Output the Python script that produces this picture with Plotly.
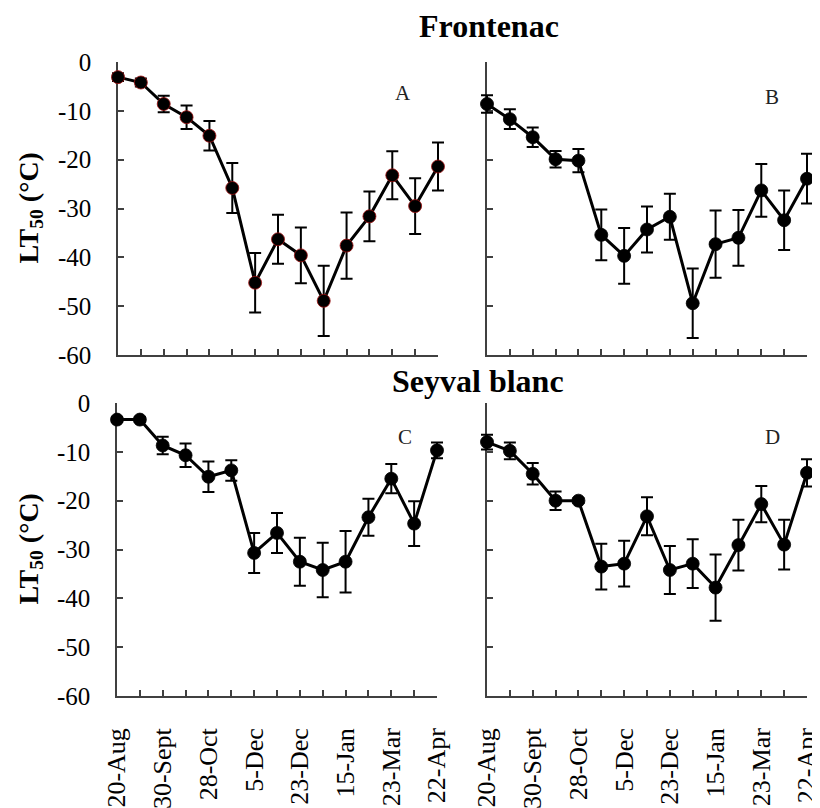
import plotly.graph_objects as go

# ---------------- data ----------------
tick_labels = ['20-Aug', '30-Sept', '28-Oct', '5-Dec', '23-Dec', '15-Jan', '23-Mar', '22-Apr']
sample_idx = list(range(15))          # 15 sampling dates, every 2nd one labelled
y_ticks = [0, -10, -20, -30, -40, -50, -60]

frontenac_A = [-3.1, -4.2, -8.6, -11.3, -15.1, -25.8, -45.2, -36.3, -39.6, -48.9, -37.6, -31.6, -23.2, -29.5, -21.4]
frontenac_A_err = [0.8, 0.8, 1.7, 2.4, 3.0, 5.1, 6.1, 5.0, 5.7, 7.2, 6.8, 5.1, 4.9, 5.7, 4.9]
frontenac_B = [-8.6, -11.7, -15.4, -19.9, -20.2, -35.4, -39.7, -34.3, -31.7, -49.4, -37.3, -36.0, -26.3, -32.4, -23.9]
frontenac_B_err = [1.8, 2.0, 2.0, 1.7, 2.4, 5.2, 5.7, 4.7, 4.7, 7.1, 6.9, 5.7, 5.4, 6.1, 5.1]
seyval_C = [-3.4, -3.4, -8.7, -10.7, -15.1, -13.8, -30.7, -26.6, -32.5, -34.2, -32.5, -23.4, -15.5, -24.7, -9.7]
seyval_C_err = [0.5, 0.5, 1.8, 2.4, 3.1, 2.1, 4.1, 4.1, 4.9, 5.6, 6.3, 3.8, 3.0, 4.6, 1.6]
seyval_D = [-8.0, -9.8, -14.5, -20.0, -20.0, -33.5, -32.9, -23.2, -34.2, -32.9, -37.8, -29.1, -20.7, -29.0, -14.3]
seyval_D_err = [1.5, 1.7, 2.2, 1.9, 0.5, 4.7, 4.7, 3.9, 4.9, 5.0, 6.8, 5.2, 3.7, 5.1, 2.8]

panels = [
    ('A', frontenac_A, frontenac_A_err),
    ('B', frontenac_B, frontenac_B_err),
    ('C', seyval_C, seyval_C_err),
    ('D', seyval_D, seyval_D_err),
]

X_RANGE = [0, 14]
Y_RANGE = [-60, 0]

# ---------------- layout geometry (window pixels) ----------------
OFF = 8                      # default page body margin
W, H = 820 - OFF, 808 - OFF  # figure size so it fits the window
boxes = {
    'A': (118, 438, 62, 355),
    'B': (487, 807, 62, 355),
    'C': (117, 437, 403, 696),
    'D': (487, 807, 403, 696),
}
letter_pos = {'A': (403, 93), 'B': (772, 97), 'C': (405, 437), 'D': (772, 437)}
PAD = 12  # extra pixels around each panel for the (hidden) data axes so caps are not clipped

def px(x):
    return (x - OFF) / W

def py(y):
    return 1 - (y - OFF) / H

SERIF = 'Liberation Serif'
AXC = '#404040'

fig = go.Figure()
layout = dict(
    width=W, height=H, margin=dict(l=0, r=0, t=0, b=0, autoexpand=False),
    paper_bgcolor='white', plot_bgcolor='rgba(0,0,0,0)', showlegend=False,
    annotations=[],
)

x_ticktext = [tick_labels[i // 2] if i % 2 == 0 else '' for i in sample_idx]

for k, (name, vals, errs) in enumerate(panels):
    x0, x1, y0, y1 = boxes[name]
    bottom = name in ('C', 'D')
    left = name in ('A', 'C')
    vis = str(2 * k + 1)   # visible frame axes
    dat = str(2 * k + 2)   # hidden data axes (slightly larger, same scale)
    vis_x = 'x' if vis == '1' else 'x' + vis
    vis_y = 'y' if vis == '1' else 'y' + vis

    # visible axes
    layout['xaxis' + ('' if vis == '1' else vis)] = dict(
        domain=[px(x0), px(x1)], anchor=vis_y, range=X_RANGE,
        showline=True, linecolor=AXC, linewidth=1.5,
        ticks='inside', ticklen=6, tickwidth=1.5, tickcolor=AXC,
        tickvals=sample_idx, ticktext=x_ticktext, tickangle=-90,
        showticklabels=bottom, ticklabelstandoff=20, ticklabeloverflow='allow',
        tickfont=dict(family=SERIF, size=26, color='black'),
        showgrid=False, zeroline=False, fixedrange=True,
    )
    layout['yaxis' + ('' if vis == '1' else vis)] = dict(
        domain=[py(y1), py(y0)], anchor=vis_x, range=Y_RANGE,
        showline=True, linecolor=AXC, linewidth=1.5,
        ticks='inside', ticklen=6, tickwidth=1.5, tickcolor=AXC,
        tickvals=y_ticks, ticktext=[str(v) for v in y_ticks],
        showticklabels=left, ticklabelstandoff=20, ticklabeloverflow='allow',
        tickfont=dict(family=SERIF, size=25, color='black'),
        showgrid=False, zeroline=False, fixedrange=True,
    )
    # empty trace so the frame axes are drawn
    fig.add_trace(go.Scatter(x=[None], y=[None], xaxis=vis_x, yaxis=vis_y,
                             mode='markers', hoverinfo='skip'))

    # hidden data axes: same scale, extended by PAD pixels on each side
    dx = PAD * (X_RANGE[1] - X_RANGE[0]) / (x1 - x0)
    dy = PAD * (Y_RANGE[1] - Y_RANGE[0]) / (y1 - y0)
    layout['xaxis' + dat] = dict(
        domain=[px(x0 - PAD), px(x1 + PAD)], anchor='y' + dat,
        range=[X_RANGE[0] - dx, X_RANGE[1] + dx], visible=False, fixedrange=True,
    )
    layout['yaxis' + dat] = dict(
        domain=[py(y1 + PAD), py(y0 - PAD)], anchor='x' + dat,
        range=[Y_RANGE[0] - dy, Y_RANGE[1] + dy], visible=False, fixedrange=True,
    )

    fig.add_trace(go.Scatter(
        x=sample_idx, y=vals,
        xaxis='x' + dat, yaxis='y' + dat,
        mode='lines+markers',
        line=dict(color='black', width=3),
        marker=dict(color='black', size=13,
                    line=dict(color='#a01010' if name == 'A' else 'black', width=0.8)),
        error_y=dict(type='data', array=errs, visible=True, color='black',
                     thickness=2, width=6),
        cliponaxis=False,
    ))

    lx, ly = letter_pos[name]
    layout['annotations'].append(dict(
        x=px(lx), y=py(ly), xref='paper', yref='paper', text=name,
        showarrow=False, font=dict(family=SERIF, size=21, color='#222222'),
        xanchor='center', yanchor='middle'))
    if left:
        layout['annotations'].append(dict(
            x=px(30), y=py((y0 + y1) / 2), xref='paper', yref='paper',
            text='<b>LT<sub>50</sub> (°C)</b>', textangle=-90, showarrow=False,
            font=dict(family=SERIF, size=28, color='black'),
            xanchor='center', yanchor='middle'))

layout['annotations'].append(dict(
    x=px(489), y=py(26), xref='paper', yref='paper', text='<b>Frontenac</b>',
    showarrow=False, font=dict(family=SERIF, size=32, color='black'),
    xanchor='center', yanchor='middle'))
layout['annotations'].append(dict(
    x=px(478), y=py(381), xref='paper', yref='paper', text='<b>Seyval blanc</b>',
    showarrow=False, font=dict(family=SERIF, size=32, color='black'),
    xanchor='center', yanchor='middle'))

fig.update_layout(**layout)
fig.write_html('out.html')
